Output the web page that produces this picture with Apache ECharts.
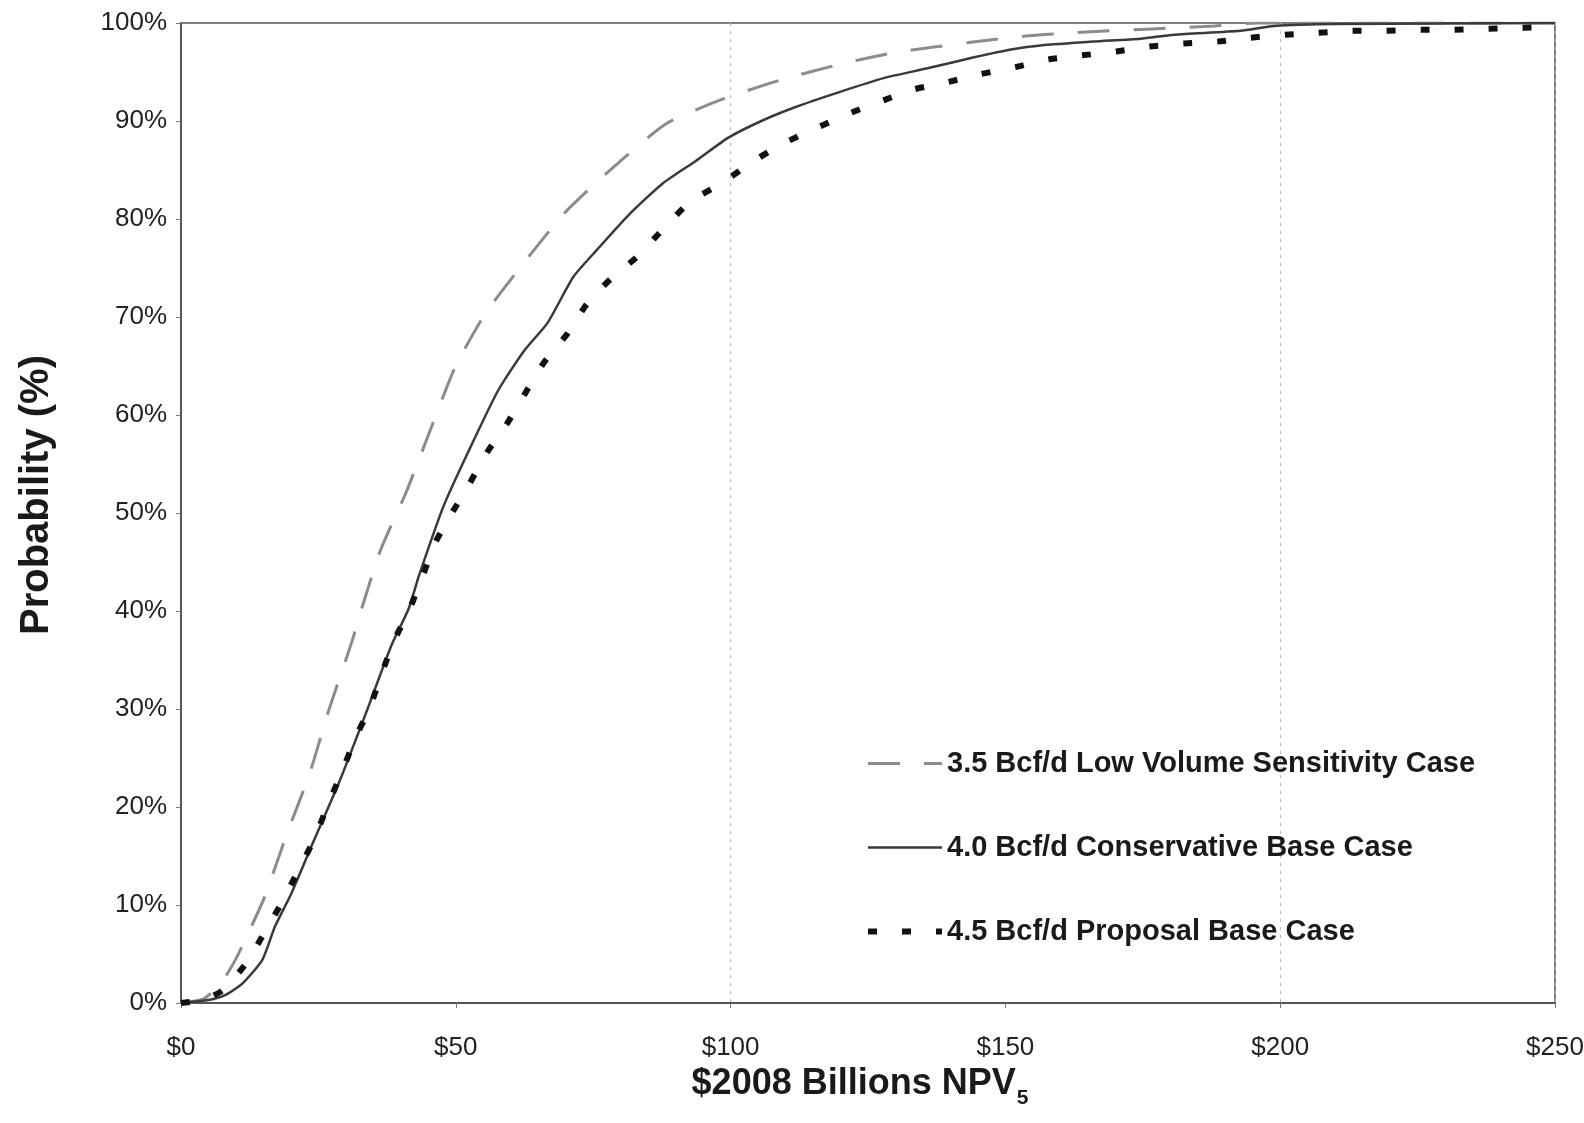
<!DOCTYPE html>
<html>
<head>
<meta charset="utf-8">
<script src="https://cdn.jsdelivr.net/npm/echarts@6/dist/echarts.min.js"></script>
<style>
    html, body { margin: 0; padding: 0; background: #fff; }
    #chart { width: 1584px; height: 1123px; }
</style>
</head>
<body>
<div id="chart"></div>
<script>
// series names, as in the legend
const seriesNames = [
    "3.5 Bcf/d Low Volume Sensitivity Case",
    "4.0 Bcf/d Conservative Base Case",
    "4.5 Bcf/d Proposal Base Case"
]

// [NPV $billions, cumulative probability %]
const lowVolume = [
    [0, 0], [4, 0.4], [7, 1.8], [9.9, 4.4], [12.8, 7.8], [15.2, 10.8], [19.3, 17.3],
    [23.4, 23.4], [26.9, 29.9], [31.0, 36.7], [32.8, 40.1], [36.3, 46.2], [41.1, 52.3],
    [45.8, 59.1], [49.9, 64.9], [55.3, 70.3], [61.5, 74.9], [69.6, 80.5], [77.9, 84.9],
    [88.2, 89.7], [98.4, 92.2], [109.2, 94.2], [120.7, 95.9], [130, 97.0], [143.3, 98.0],
    [154.2, 98.7], [165.5, 99.1], [176.7, 99.4], [188, 99.7], [196, 100], [250, 100]
]

const conservative = [
    [0, 0], [5, 0.3], [8, 0.8], [11.2, 2.0], [14.8, 4.4], [17.1, 7.8], [20.1, 11.2],
    [24.2, 16.6], [28.9, 22.7], [33.6, 29.5], [38.3, 36.5], [41.4, 40.2], [43.3, 43.6],
    [47.7, 50.6], [52.4, 56.4], [57.7, 62.5], [62.5, 66.6], [66.7, 69.4], [71.4, 74.1],
    [75.6, 76.8], [81.6, 80.5], [87.6, 83.6], [93.6, 85.9], [99.6, 88.3], [105.6, 90.0],
    [111.7, 91.4], [119.5, 92.9], [128, 94.4], [136, 95.4], [144.3, 96.5], [151, 97.3],
    [156.4, 97.7], [166, 98.1], [174.6, 98.4], [180.7, 98.8], [192.8, 99.2], [198.9, 99.7],
    [210, 99.9], [250, 100]
]

const proposal = [
    [0, 0], [4, 0.3], [7.6, 1.3], [11.8, 4.0], [15.1, 7.1], [18.4, 10.3], [21.4, 13.6],
    [24.3, 16.8], [26.7, 20.2], [29.3, 23.6], [31.7, 27.0], [34.4, 30.2], [36.5, 33.6],
    [38.9, 37.1], [41.6, 40.2], [43.8, 43.3], [46.2, 46.9], [49.2, 49.9], [52.5, 53.0],
    [55.7, 56.2], [59.3, 59.1], [62.5, 62.1], [66.1, 65.4], [70.3, 68.3], [73.8, 71.3],
    [78.2, 73.9], [83.1, 76.2], [87.6, 78.9], [92.7, 81.8], [98.2, 83.6], [103.9, 85.8],
    [109.2, 87.6], [115.3, 89.2], [121.3, 90.7], [127.3, 92.0], [133.2, 93.2], [139.7, 94.0],
    [145.6, 94.8], [151.8, 95.5], [158, 96.3], [164, 96.7], [170.2, 97.1], [176.2, 97.6],
    [182.5, 97.9], [188.6, 98.1], [194.6, 98.5], [200.9, 98.8], [206.9, 99.0], [213, 99.2],
    [219, 99.2], [225, 99.3], [231, 99.3], [237, 99.4], [243, 99.5], [250, 99.6]
]

const font = "Liberation Sans, Arial, sans-serif"

const chart = echarts.init(document.getElementById("chart"))

const option = {
    animation: false,
    backgroundColor: "#fff",
    grid: {
        left: 181,
        right: 29,
        top: 23,
        bottom: 120,
        outerBoundsMode: "none",
        show: true,
        borderColor: "#555",
        borderWidth: 1.5,
        backgroundColor: "transparent"
    },
    legend: {
        orient: "vertical",
        left: 860,
        top: 744,
        itemWidth: 74,
        itemHeight: 20,
        itemGap: 55,
        // hide the symbol dot, keep the line sample with its dash
        itemStyle: { opacity: 0 },
        lineStyle: { width: "inherit" },
        textStyle: {
            fontFamily: font,
            fontSize: 29,
            fontWeight: "bold",
            color: "#1a1a1a"
        },
        data: seriesNames
    },
    xAxis: [{
        type: "value",
        min: 0,
        max: 250,
        interval: 50,
        name: "{a|$2008 Billions NPV}{b|5}",
        nameLocation: "middle",
        nameGap: 51,
        nameTextStyle: {
            padding: [0, 16, 0, 0],
            rich: {
                a: { fontFamily: font, fontSize: 36, fontWeight: "bold", color: "#1a1a1a", lineHeight: 42 },
                b: { fontFamily: font, fontSize: 21, fontWeight: "bold", color: "#1a1a1a", lineHeight: 22, verticalAlign: "bottom", padding: [0, 0, -4, 1] }
            }
        },
        axisLine: { lineStyle: { color: "#555", width: 2 } },
        axisTick: { show: true, length: 5, lineStyle: { color: "#777" } },
        axisLabel: {
            formatter: "${value}",
            fontFamily: font,
            fontSize: 26,
            color: "#222",
            margin: 32
        },
        splitLine: { show: false }
    }, {
        // only the $100 and $200 dotted guides
        type: "value",
        min: 0,
        max: 250,
        interval: 100,
        position: "bottom",
        axisLine: { show: false },
        axisTick: { show: false },
        axisLabel: { show: false },
        splitLine: { show: true, lineStyle: { color: "#bbb", type: [3, 5], width: 1.2 } }
    }],
    yAxis: {
        type: "value",
        min: 0,
        max: 100,
        interval: 10,
        name: "Probability (%)",
        nameLocation: "middle",
        nameGap: 124,
        nameTextStyle: {
            fontFamily: font,
            fontSize: 40,
            fontWeight: "bold",
            color: "#1a1a1a",
            padding: [0, 0, 0, 36]
        },
        axisLine: { show: true, lineStyle: { color: "#555", width: 2 } },
        axisTick: { show: true, length: 5, lineStyle: { color: "#777" } },
        axisLabel: {
            formatter: "{value}%",
            fontFamily: font,
            fontSize: 26,
            color: "#222",
            margin: 14
        },
        splitLine: { show: false }
    },
    series: [{
        name: seriesNames[0],
        type: "line",
        data: lowVolume,
        symbol: "none",
        smooth: 0.2,
        lineStyle: { color: "#8c8c8c", width: 3, type: [32, 24] },
        itemStyle: { color: "#8c8c8c" },
        z: 3
    }, {
        name: seriesNames[1],
        type: "line",
        data: conservative,
        symbol: "none",
        smooth: 0.2,
        lineStyle: { color: "#3a3a3a", width: 2.5 },
        itemStyle: { color: "#3a3a3a" },
        z: 4
    }, {
        name: seriesNames[2],
        type: "line",
        data: proposal,
        symbol: "none",
        smooth: 0.2,
        lineStyle: { color: "#111", width: 6, type: [9, 25] },
        itemStyle: { color: "#111" },
        z: 5
    }]
}

chart.setOption(option)
</script>
</body>
</html>
